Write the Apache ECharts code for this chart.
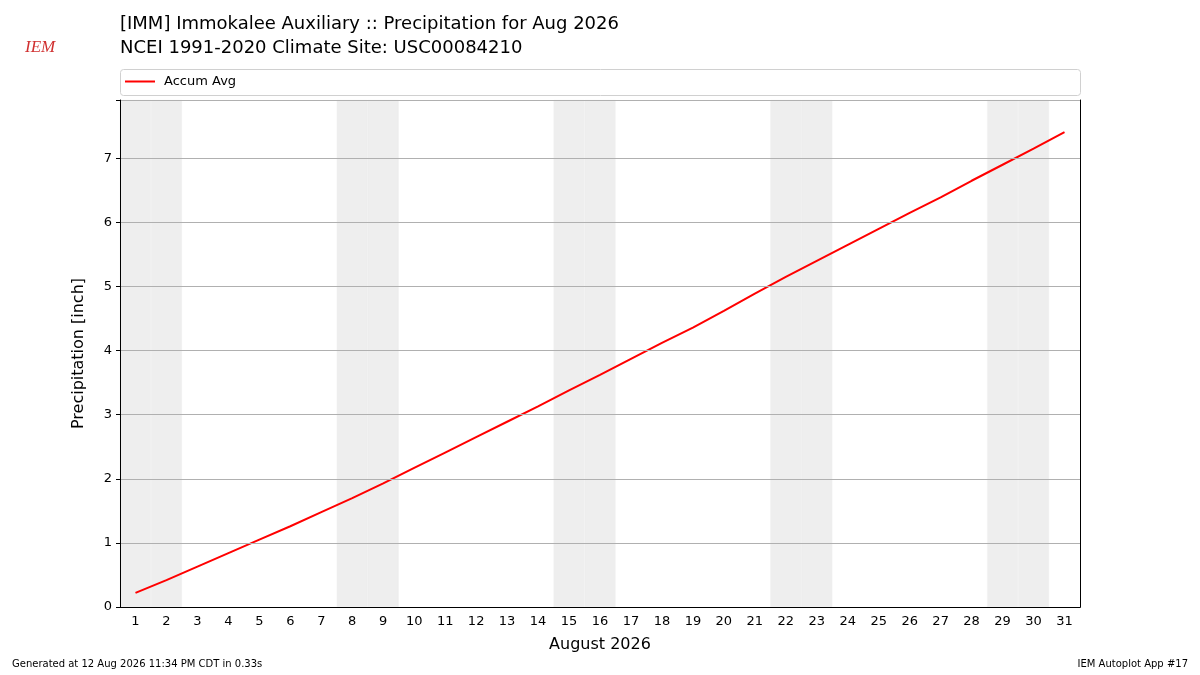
<!DOCTYPE html>
<html><head><meta charset="utf-8">
<script src="https://cdn.jsdelivr.net/npm/echarts@6/dist/echarts.min.js"></script>
<style>body{margin:0;background:#fff}#chart{width:1200px;height:675px}</style>
</head><body><div id="chart"></div>
<script>
var days = [];
for (var d = 1; d <= 31; d++) days.push(String(d));
var accumAvg = [0.22,0.42,0.63,0.84,1.05,1.26,1.48,1.70,1.93,2.17,2.41,2.65,2.89,3.13,3.38,3.62,3.87,4.12,4.36,4.62,4.89,5.15,5.40,5.65,5.90,6.15,6.39,6.65,6.90,7.15,7.41];
var weekendDays = ['1','2','8','9','15','16','22','23','29','30'];
var yMax = 7.91;
var yTicks = [0,1,2,3,4,5,6,7];

var shade = days.map(function(d){ return weekendDays.indexOf(d) >= 0 ? yMax : null; });

var myChart = echarts.init(document.getElementById('chart'));
var font = 'DejaVu Sans';
var option = {
	animation: false,
	textStyle: { fontFamily: font },
	title: [
		{ text: '[IMM] Immokalee Auxiliary :: Precipitation for Aug 2026\nNCEI 1991-2020 Climate Site: USC00084210',
		  left: 115, top: 7, textStyle: { fontSize: 18, fontWeight: 'normal', color: '#000', lineHeight: 24, fontFamily: font } },
		{ text: 'IEM', left: 20, top: 34, textStyle: { fontSize: 17, fontStyle: 'italic', fontWeight: 'normal', color: '#d03030', fontFamily: 'Liberation Serif' } },
		{ text: 'Generated at 12 Aug 2026 11:34 PM CDT in 0.33s', left: 7, top: 654, textStyle: { fontSize: 10, fontWeight: 'normal', color: '#000', fontFamily: font } },
		{ text: 'IEM Autoplot App #17', right: 7, top: 654, textStyle: { fontSize: 10, fontWeight: 'normal', color: '#000', fontFamily: font } }
	],
	graphic: [
		{ type: 'rect', left: 120, top: 69, shape: { width: 960, height: 26, r: 3 }, style: { fill: '#fff', stroke: '#d0d0d0', lineWidth: 1 }, z: 0 }
	],
	legend: {
		left: 120, top: 72, padding: [3, 5],
		itemWidth: 30, itemHeight: 2, itemGap: 8, data: [{ name: 'Accum Avg', icon: 'rect' }],
		textStyle: { fontSize: 13, color: '#000', padding: [0, 0, 0, 4] }
	},
	grid: { left: 120, right: 120, top: 100, bottom: 68 },
	xAxis: [{
		type: 'category', data: days, boundaryGap: true, z: 10,
		name: 'August 2026', nameLocation: 'middle', nameGap: 30,
		nameTextStyle: { fontSize: 16, color: '#000' },
		axisLine: { lineStyle: { color: '#000' } },
		axisTick: { alignWithLabel: true, length: 4, lineStyle: { color: '#000' } },
		axisLabel: { color: '#000', fontSize: 13, interval: 0 }
	}, {
		type: 'category', data: days, position: 'top', z: 10,
		axisLine: { lineStyle: { color: '#000' } }, axisTick: { show: false }, axisLabel: { show: false }
	}],
	yAxis: [{
		type: 'value', min: 0, max: yMax, interval: 1, z: 10,
		name: 'Precipitation [inch]', nameLocation: 'middle', nameGap: 33,
		nameTextStyle: { fontSize: 16, color: '#000' },
		axisLine: { show: true, lineStyle: { color: '#000' } },
		axisTick: { show: true, length: 4, lineStyle: { color: '#000' } },
		axisLabel: { color: '#000', fontSize: 13, formatter: function(v){ return yTicks.indexOf(v) >= 0 ? v : ''; } },
		splitLine: { lineStyle: { color: '#b0b0b0' } }
	}, {
		type: 'value', min: 0, max: yMax, position: 'right', z: 10,
		axisLine: { show: true, lineStyle: { color: '#000' } }, axisTick: { show: false }, axisLabel: { show: false }, splitLine: { show: false }
	}],
	series: [
		{ type: 'bar', data: shade, barWidth: '100%', barCategoryGap: 0, itemStyle: { color: '#eeeeee', borderColor: '#eeeeee', borderWidth: 0.6 }, silent: true, z: 1 },
		{ name: 'Accum Avg', type: 'line', data: accumAvg, showSymbol: false, lineStyle: { color: '#ff0000', width: 2 }, itemStyle: { color: '#ff0000' }, z: 5 }
	]
};
option && myChart.setOption(option);
</script></body></html>
